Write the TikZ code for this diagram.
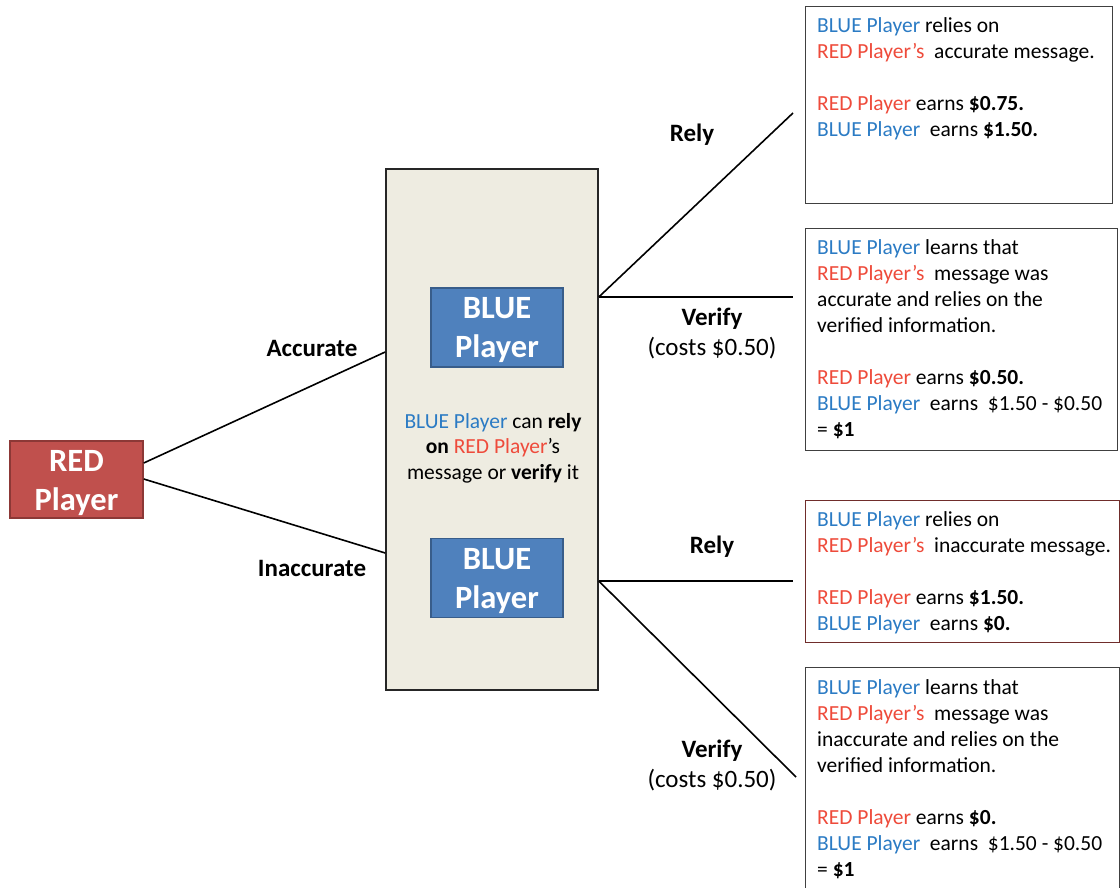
\documentclass[tikz,border=0pt]{standalone}
\usepackage{fontspec}
\setmainfont{Carlito}
\definecolor{bluetxt}{HTML}{2B7BC4}
\definecolor{redtxt}{HTML}{EE4B3B}
\definecolor{redfill}{HTML}{C0504D}
\definecolor{redline}{HTML}{8C3836}
\definecolor{bluefill}{HTML}{4F81BD}
\definecolor{blueline}{HTML}{385D8A}
\definecolor{grayfill}{HTML}{EEECE1}
\newcommand{\BP}{\textcolor{bluetxt}{BLUE Player}}
\newcommand{\RP}{\textcolor{redtxt}{RED Player}}
\begin{document}
\begin{tikzpicture}[x=1pt,y=-1pt,
  playerbox/.style={draw, line width=1.5pt, inner sep=0pt},
  playertext/.style={text=white, font=\fontsize{32.5}{39}\selectfont\bfseries, align=center, inner sep=0pt},
  redbox/.style={playerbox, fill=redfill, draw=redline, minimum width=133pt, minimum height=77pt},
  bluebox/.style={playerbox, fill=bluefill, draw=blueline, minimum width=132pt, minimum height=79pt},
  graybox/.style={draw=black!85, line width=1.6pt, fill=grayfill, minimum width=212pt, minimum height=521pt, inner sep=0pt},
  outbox/.style={draw=black!75, line width=1.2pt, anchor=north west, inner sep=0pt},
  outtext/.style={anchor=north west, align=left, inner sep=0pt, font=\fontsize{21.5}{26}\selectfont},
  midtext/.style={align=center, inner sep=0pt, font=\fontsize{21.5}{25.5}\selectfont},
  lbl/.style={font=\fontsize{25}{29}\selectfont\bfseries, align=center, inner sep=0pt},
  costlbl/.style={font=\fontsize{25}{29}\selectfont, align=center, inner sep=0pt},
  branch/.style={line width=1.6pt, black}
]
\useasboundingbox (0,0) rectangle (1120,888);

% left and middle
\node[redbox] (red) at (76.5,479.5) {};
\node[playertext] (redt) at ([yshift=-3.5pt]red.center) {RED\\Player};
\node[graybox] (gray) at (492,429.5) {};
\node[bluebox] (b1) at (497,327.5) {};
\node[playertext] (b1t) at ([yshift=-3pt]b1.center) {BLUE\\Player};
\node[bluebox] (b2) at (497,578) {};
\node[playertext] (b2t) at ([yshift=-3pt]b2.center) {BLUE\\Player};
\node[midtext] (mid) at (493,448) {\BP{} can \textbf{rely}\\\textbf{on} \RP{}'s\\message or \textbf{verify} it};

% outcome boxes
\node[outbox, minimum width=307pt, minimum height=197pt] (o1) at (805,6) {};
\node[outbox, minimum width=312pt, minimum height=222pt] (o2) at (805,228) {};
\node[outbox, draw=redline!80!black, minimum width=314pt, minimum height=142pt] (o3) at (805,500) {};
\node[outbox, minimum width=314pt, minimum height=240pt] (o4) at (805,667) {};

\node[outtext] (t1) at (817,17) {\BP{} relies on\\\textcolor{redtxt}{RED Player’s}\ \ accurate message.\\[26pt]\RP{} earns \textbf{\$0.75.}\\\BP{}\ \ earns \textbf{\$1.50.}};
\node[outtext] (t2) at (817,239) {\BP{} learns that\\\textcolor{redtxt}{RED Player’s}\ \ message was\\accurate and relies on the\\verified information.\\[26pt]\RP{} earns \textbf{\$0.50.}\\\BP{}\ \ earns\ \ \$1.50 - \$0.50\\= \textbf{\$1}};
\node[outtext] (t3) at (817,511) {\BP{} relies on\\\textcolor{redtxt}{RED Player’s}\ \ inaccurate message.\\[26pt]\RP{} earns \textbf{\$1.50.}\\\BP{}\ \ earns \textbf{\$0.}};
\node[outtext] (t4) at (817,679) {\BP{} learns that\\\textcolor{redtxt}{RED Player’s}\ \ message was\\inaccurate and relies on the\\verified information.\\[26pt]\RP{} earns \textbf{\$0.}\\\BP{}\ \ earns\ \ \$1.50 - \$0.50\\= \textbf{\$1}};

% connectors
\coordinate (ra) at (red.east |- 0,463);
\coordinate (ri) at (red.east |- 0,479);
\coordinate (ga) at (gray.west |- 0,352);
\coordinate (gi) at (gray.west |- 0,553);
\coordinate (gu) at (gray.east |- 0,297);
\coordinate (gl) at (gray.east |- 0,581);
\coordinate (e1) at (793,113);
\coordinate (e2) at (793,297);
\coordinate (e3) at (793,581);
\coordinate (e4) at (796,777);

\draw[branch] (ra) -- (ga);
\draw[branch] (ri) -- (gi);
\draw[branch] (gu) -- (e1);
\draw[branch] (gu) -- (e2);
\draw[branch] (gl) -- (e3);
\draw[branch] (gl) -- (e4);

% labels
\node[lbl] (lacc) at (312,348) {Accurate};
\node[lbl] (linacc) at (312,568) {Inaccurate};
\node[lbl] (lrely1) at (692,135) {Rely};
\node[lbl] (lver1) at (712,319) {Verify};
\node[costlbl] (lcost1) at (712,348) {(costs \$0.50)};
\node[lbl] (lrely2) at (712,547) {Rely};
\node[lbl] (lver2) at (712,751) {Verify};
\node[costlbl] (lcost2) at (712,780) {(costs \$0.50)};
\end{tikzpicture}
\end{document}
